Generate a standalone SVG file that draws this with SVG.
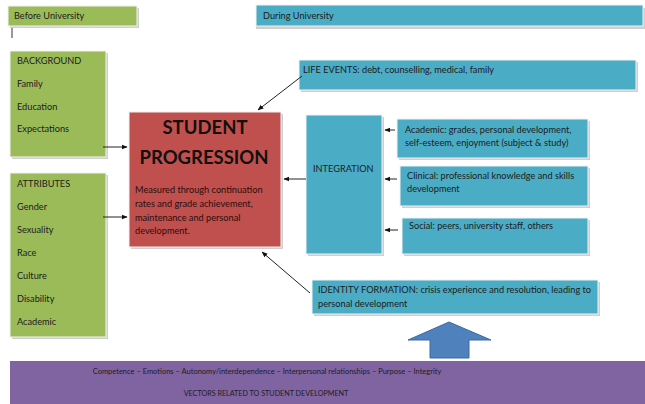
<svg xmlns="http://www.w3.org/2000/svg" width="645" height="404" viewBox="0 0 645 404">
<style>
text{font-family:Lato,"Open Sans","Liberation Sans",sans-serif;font-size:9.2px;fill:#1c1c1c}
.sh{fill:#cfcfcf}
.g{fill:#9bbb59;stroke:#f2f2f2;stroke-width:1}
.b{fill:#4bacc6;stroke:#f2f2f2;stroke-width:1}
.r{fill:#c0504d;stroke:#f2f2f2;stroke-width:1}
.p{fill:#8064a2}
.big{font-size:18.5px;font-weight:bold;fill:#111}
.red{fill:#2a0e0e}
.sm{font-size:7.5px}
.c{stroke:#222;stroke-width:1;fill:none;marker-end:url(#ah)}
</style>
<defs>
<marker id="ah" viewBox="0 0 10 10" refX="9" refY="5" markerWidth="6" markerHeight="6" orient="auto" markerUnits="userSpaceOnUse">
<path d="M0,1 L10,5 L0,9 z" fill="#111"/>
</marker>
</defs>
<rect width="645" height="404" fill="#fff"/>
<g id="before">
<rect class="sh" x="10" y="8" width="129" height="20"/>
<rect class="g" x="8" y="6" width="129" height="20"/>
<text x="14" y="19">Before University</text>
<line x1="12" y1="28" x2="12" y2="38" stroke="#333" stroke-width="1"/>
</g>
<g id="during">
<rect class="sh" x="256" y="8" width="389" height="21"/>
<rect class="b" x="256" y="5" width="387" height="21"/>
<text x="263" y="19">During University</text>
</g>
<g id="background">
<rect class="sh" x="12" y="53" width="96" height="106"/>
<rect class="g" x="10" y="51" width="96" height="106"/>
<text x="17" y="64">BACKGROUND</text>
<text x="17" y="87">Family</text>
<text x="17" y="110">Education</text>
<text x="17" y="132">Expectations</text>
</g>
<g id="attributes">
<rect class="sh" x="12" y="175" width="96" height="164"/>
<rect class="g" x="10" y="173" width="96" height="164"/>
<text x="17" y="187">ATTRIBUTES</text>
<text x="17" y="210">Gender</text>
<text x="17" y="233">Sexuality</text>
<text x="17" y="256">Race</text>
<text x="17" y="279">Culture</text>
<text x="17" y="302">Disability</text>
<text x="17" y="325">Academic</text>
</g>
<g id="progression">
<rect class="sh" x="131" y="114" width="152" height="135"/>
<rect class="r" x="129" y="112" width="152" height="135"/>
<text class="big" x="205" y="134" text-anchor="middle">STUDENT</text>
<text class="big" x="204" y="164" text-anchor="middle">PROGRESSION</text>
<text class="red" x="135" y="193">Measured through continuation</text>
<text class="red" x="135" y="207">rates and grade achievement,</text>
<text class="red" x="135" y="221">maintenance and personal</text>
<text class="red" x="135" y="234">development.</text>
</g>
<g id="life">
<rect class="sh" x="301" y="62" width="337" height="30"/>
<rect class="b" x="299" y="60" width="337" height="30"/>
<text x="303" y="73">LIFE EVENTS: debt, counselling, medical, family</text>
</g>
<g id="integration">
<rect class="sh" x="308" y="117" width="76" height="139"/>
<rect class="b" x="306" y="115" width="76" height="139"/>
<text x="313" y="172">INTEGRATION</text>
</g>
<g id="academic">
<rect class="sh" x="399" y="121" width="191" height="39"/>
<rect class="b" x="397" y="119" width="191" height="39"/>
<text x="405" y="133">Academic: grades, personal development,</text>
<text x="405" y="146">self-esteem, enjoyment (subject &amp; study)</text>
</g>
<g id="clinical">
<rect class="sh" x="402" y="168" width="188" height="40"/>
<rect class="b" x="400" y="166" width="188" height="40"/>
<text x="407" y="179">Clinical: professional knowledge and skills</text>
<text x="407" y="192">development</text>
</g>
<g id="social">
<rect class="sh" x="404" y="220" width="186" height="36"/>
<rect class="b" x="402" y="218" width="186" height="36"/>
<text x="409" y="229">Social: peers, university staff, others</text>
</g>
<g id="identity">
<rect class="sh" x="314" y="282" width="286" height="34"/>
<rect class="b" x="312" y="280" width="286" height="34"/>
<text x="318" y="293">IDENTITY FORMATION: crisis experience and resolution, leading to</text>
<text x="318" y="307">personal development</text>
</g>
<g id="vectors">
<rect class="p" x="10" y="361" width="640" height="45"/>
<text class="sm" x="267" y="374" text-anchor="middle">Competence – Emotions – Autonomy/interdependence – Interpersonal relationships – Purpose – Integrity</text>
<text class="sm" x="266" y="396" text-anchor="middle" style="font-size:7.2px">VECTORS RELATED TO STUDENT DEVELOPMENT</text>
</g>
<g id="bigarrow">
<path d="M449,322 L491,340 L469,340 L469,358 L430,358 L430,340 L408,340 z" fill="#4f81bd" stroke="#3a6aa3" stroke-width="1"/>
</g>
<g id="connectors">
<line class="c" x1="103" y1="147" x2="127" y2="147"/>
<line class="c" x1="103" y1="217" x2="127" y2="217"/>
<line class="c" x1="302" y1="76" x2="258" y2="110"/>
<line class="c" x1="306" y1="179" x2="284" y2="179"/>
<line class="c" x1="395" y1="130" x2="385" y2="130"/>
<line class="c" x1="397" y1="179" x2="385" y2="179"/>
<line class="c" x1="398" y1="230" x2="385" y2="230"/>
<line class="c" x1="310" y1="293" x2="262" y2="252"/>
</g>
</svg>
